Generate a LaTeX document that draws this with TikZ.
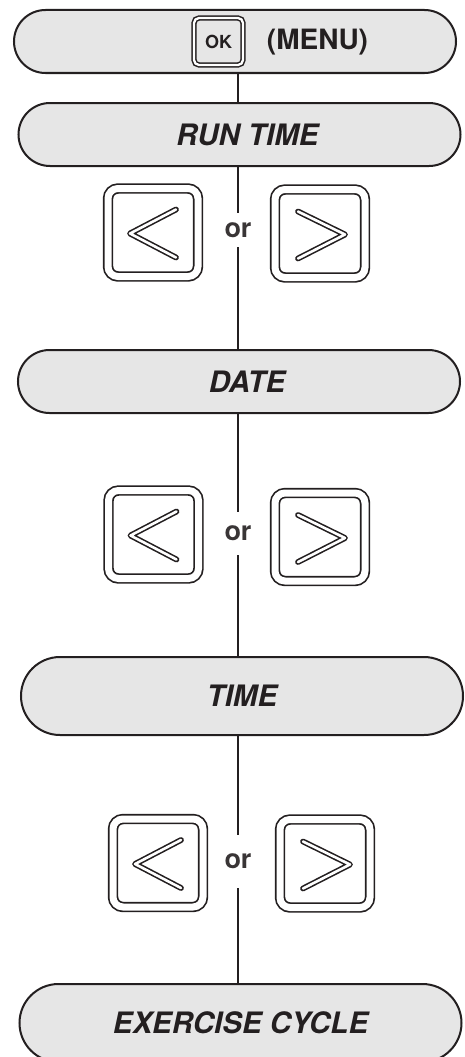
\documentclass[tikz,border=0pt]{standalone}
\usepackage{fontspec}
\setsansfont{TeX Gyre Heros}
\usetikzlibrary{shapes.misc}
\definecolor{ink}{HTML}{231F20}
\definecolor{pillgray}{HTML}{E6E6E6}
\tikzset{
  pill/.style={rounded rectangle, draw=ink, fill=pillgray, line width=2pt,
    minimum width=442pt, minimum height=63pt, inner sep=0pt,
    font=\sffamily\fontsize{29.5}{32}\selectfont\bfseries\itshape, text=ink},
  keybox/.style={draw=ink, double=white, line width=1.7pt, double distance=7pt,
    rounded corners=10pt, minimum width=90pt, minimum height=88pt, inner sep=0pt},
  okbox/.style={draw=ink, double=white, line width=1.5pt, double distance=2.3pt,
    rounded corners=5pt, minimum width=49pt, minimum height=47pt, inner sep=0pt,
    font=\sffamily\fontsize{18}{18}\selectfont\bfseries, text=ink},
  chevron/.style={draw=ink, double=white, line width=1.6pt, double distance=2.6pt,
    line cap=round, line join=round},
  ortext/.style={inner sep=0pt, minimum width=30pt,
    font=\sffamily\fontsize{27}{29}\selectfont\bfseries, text=ink!90},
  link/.style={draw=ink, line width=2pt}
}
\begin{document}
\begin{tikzpicture}[x=1pt, y=-1pt]
    \clip (0,0) rectangle (465,1057);
    % Menu bar
    \node[pill] (menu) at (235,41.5) {};
    \node[okbox] (ok) at (218.5,41.5) {OK};
    \node[font=\sffamily\fontsize{28}{30}\selectfont\bfseries, text=ink] (menutext) at (317.5,42) {(MENU)};
    % Screens
    \node[pill] (runtime) at (239.5,134.5) {\hspace*{16pt}RUN TIME};
    \node[pill] (date) at (239,381.5) {\hspace*{16pt}DATE};
    \node[pill, minimum height=78pt] (time) at (242,696) {TIME};
    \node[pill, minimum height=78pt] (cycle) at (240.5,1023) {EXERCISE CYCLE};
    % Arrow keys with "or" between them
    \foreach \row/\lx/\ly/\rx/\ry/\oy/\oh in {1/153/232.5/320/233.5/230/34,
        2/153.5/534.5/320/537/533.5/43, 3/158/863/325/863.5/861.5/53} {
      \node[keybox] (bl\row) at (\lx,\ly) {};
      \node[keybox] (br\row) at (\rx,\ry) {};
      \node[ortext, minimum height=\oh pt] (or\row) at (238,\oy) {or};
      \draw[chevron] ([shift={(23,-23)}]bl\row.center) -- ([shift={(-23,1)}]bl\row.center)
        -- ([shift={(23,25)}]bl\row.center);
      \draw[chevron] ([shift={(-22,-22)}]br\row.center) -- ([shift={(25,1)}]br\row.center)
        -- ([shift={(-22,25)}]br\row.center);
    }
    % Connectors
    \draw[link] (menu.south -| or1) -- (runtime.north -| or1);
    \draw[link] (runtime.south -| or1) -- (or1.north);
    \draw[link] (or1.south) -- (date.north -| or1);
    \draw[link] (date.south -| or2) -- (or2.north);
    \draw[link] (or2.south) -- (time.north -| or2);
    \draw[link] (time.south -| or3) -- (or3.north);
    \draw[link] (or3.south) -- (cycle.north -| or3);
\end{tikzpicture}
\end{document}
